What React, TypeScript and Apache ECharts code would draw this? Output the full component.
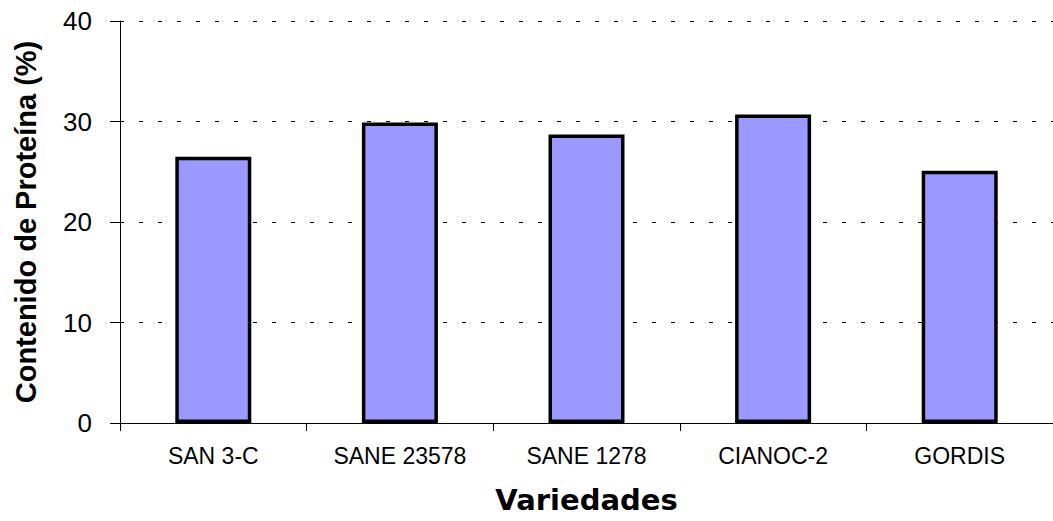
import React, { useEffect, useRef } from "react";
import * as echarts from "echarts";

const categories = ["SAN 3-C", "SANE 23578", "SANE 1278", "CIANOC-2", "GORDIS"];
const proteinValues = [26.5, 29.9, 28.7, 30.7, 25.1];
const yTicks = { min: 0, max: 40, interval: 10 };
const xTitle = "Variedades";
const yTitle = "Contenido de Proteína (%)";

export default function App() {
  const ref = useRef<HTMLDivElement>(null);
  useEffect(() => {
    if (!ref.current) return;
    const chart = echarts.init(ref.current, null, { renderer: "svg" });
    chart.setOption({
      animation: false,
      backgroundColor: "#ffffff",
      grid: { left: 120, right: -4.5, top: 21, bottom: 98, containLabel: false },
      xAxis: {
        type: "category",
        data: categories,
        boundaryGap: true,
        name: xTitle,
        nameLocation: "middle",
        nameGap: 62,
        nameTextStyle: {
          fontFamily: "DejaVu Sans",
          fontWeight: "bold",
          fontSize: 29,
          color: "#000",
        },
        axisLine: { show: true, lineStyle: { color: "#000", width: 1 } },
        axisTick: { show: true, alignWithLabel: false, length: 8, lineStyle: { color: "#000" } },
        axisLabel: {
          margin: 21,
          fontFamily: "Liberation Sans",
          fontSize: 23,
          color: "#000",
          interval: 0,
        },
        splitLine: { show: false },
      },
      yAxis: {
        type: "value",
        min: yTicks.min,
        max: yTicks.max,
        interval: yTicks.interval,
        name: yTitle,
        nameLocation: "middle",
        nameGap: 80,
        nameRotate: 90,
        nameTextStyle: {
          fontFamily: "Liberation Sans",
          fontWeight: "bold",
          fontSize: 29,
          color: "#000",
        },
        axisLine: { show: true, lineStyle: { color: "#000", width: 1 } },
        axisTick: { show: true, length: 10, lineStyle: { color: "#000" } },
        axisLabel: {
          margin: 28,
          fontFamily: "Liberation Sans",
          fontSize: 26,
          color: "#000",
        },
        splitLine: {
          show: true,
          lineStyle: { color: "#000", width: 1, type: [4, 15] },
        },
      },
      series: [
        {
          type: "bar",
          data: proteinValues,
          barWidth: 76,
          itemStyle: {
            color: "#9999FF",
            borderColor: "#000",
            borderWidth: 3.5,
          },
        },
      ],
    });
    return () => chart.dispose();
  }, []);
  return (
    <div
      ref={ref}
      style={{ position: "fixed", left: 0, top: 0, width: 1053, height: 521, background: "#fff" }}
    />
  );
}
